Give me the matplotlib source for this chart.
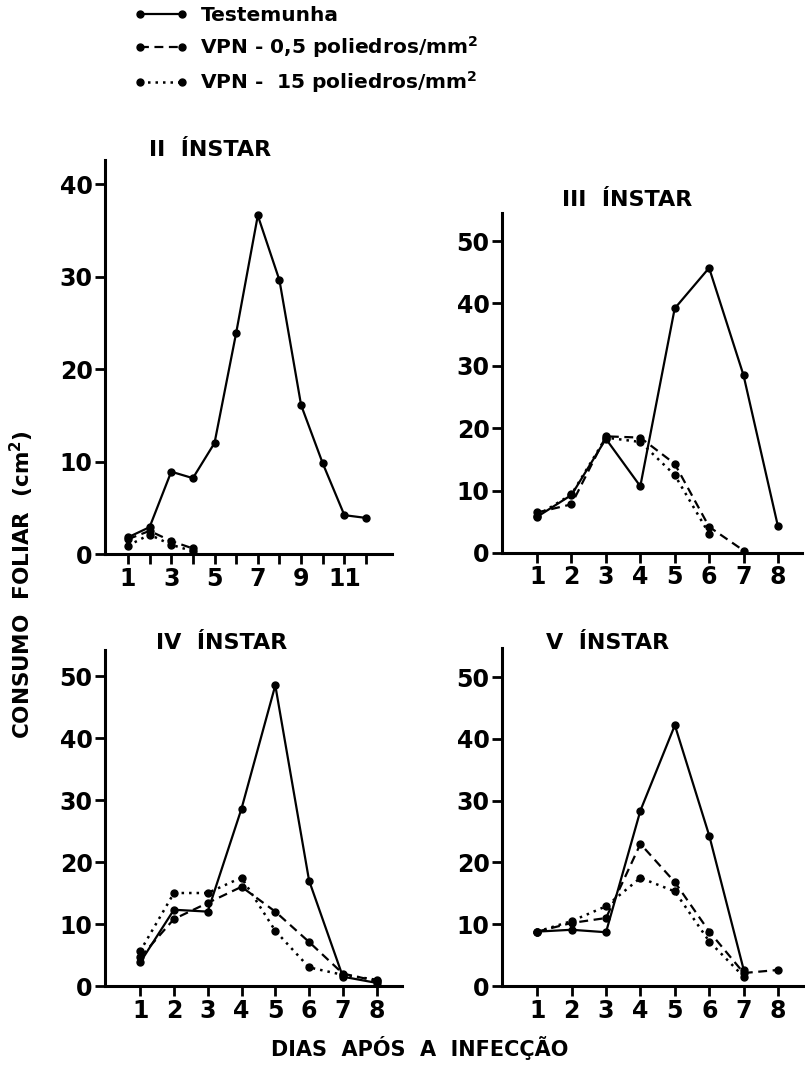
import numpy as np
import matplotlib
matplotlib.use("Agg")
import matplotlib.pyplot as plt
from matplotlib.lines import Line2D

plt.rcParams['font.family'] = ['DejaVu Sans']
plt.rcParams['font.weight'] = 'bold'

# dados (cm2 por dia apos a infeccao)
dias_ii = [1, 2, 3, 4, 5, 6, 7, 8, 9, 10, 11, 12]
test_ii = [1.8, 2.9, 8.9, 8.2, 12.0, 23.9, 36.6, 29.6, 16.1, 9.8, 4.2, 3.9]
dias_ii_vpn = [1, 2, 3, 4]
vpn05_ii = [1.6, 2.5, 1.4, 0.6]
vpn15_ii = [0.9, 2.1, 1.0, 0.3]

dias_iii = [1, 2, 3, 4, 5, 6, 7, 8]
test_iii = [5.8, 9.3, 18.3, 10.7, 39.2, 45.7, 28.5, 4.3]
dias_iii_05 = [1, 2, 3, 4, 5, 6, 7]
vpn05_iii = [6.5, 7.8, 18.7, 18.5, 14.3, 4.2, 0.4]
dias_iii_15 = [1, 2, 3, 4, 5, 6]
vpn15_iii = [6.0, 9.4, 18.5, 17.8, 12.5, 3.1]

dias_iv = [1, 2, 3, 4, 5, 6, 7, 8]
test_iv = [3.8, 12.3, 12.0, 28.6, 48.5, 17.0, 1.5, 0.5]
vpn05_iv = [4.6, 10.8, 13.4, 16.0, 12.0, 7.1, 2.0, 0.8]
vpn15_iv = [5.6, 15.0, 15.0, 17.5, 8.9, 3.0, 1.8, 1.0]

dias_v = [1, 2, 3, 4, 5, 6, 7]
test_v = [8.8, 9.1, 8.7, 28.4, 42.2, 24.3, 2.6]
dias_v_05 = [1, 2, 3, 4, 5, 6, 7, 8]
vpn05_v = [8.8, 10.2, 11.0, 23.0, 16.8, 8.8, 2.1, 2.6]
vpn15_v = [8.8, 10.5, 12.9, 17.5, 15.3, 7.2, 1.5]

W, H = 805, 1078
fig = plt.figure(figsize=(W / 100, H / 100), dpi=100)

def px_axes(left, right, top, bottom):
    return fig.add_axes([left / W, 1 - bottom / H, (right - left) / W, (bottom - top) / H])

s_solid = dict(color='black', lw=1.6, ls='-', marker='o', ms=5)
s_dash = dict(color='black', lw=1.6, ls=(0, (4, 2.5)), marker='o', ms=5)
s_dot = dict(color='black', lw=1.8, ls=(0, (1, 2)), marker='o', ms=5)

def estilo(ax):
    for s in ['top', 'right']:
        ax.spines[s].set_visible(False)
    for s in ['left', 'bottom']:
        ax.spines[s].set_linewidth(2.2)
    ax.tick_params(direction='out', length=7, width=2, labelsize=17, pad=2)
    for lab in ax.get_xticklabels() + ax.get_yticklabels():
        lab.set_fontweight('bold')

# II instar
ax1 = px_axes(105, 392, 160, 554)
ax1.plot(dias_ii, test_ii, **s_solid)
ax1.plot(dias_ii_vpn, vpn05_ii, **s_dash)
ax1.plot(dias_ii_vpn, vpn15_ii, **s_dot)
ax1.set_xlim(-0.06, 13.2)
ax1.set_ylim(0, 42.6)
ax1.set_xticks(range(1, 13))
ax1.set_xticklabels(['1', '', '3', '', '5', '', '7', '', '9', '', '11', ''])
ax1.set_yticks([0, 10, 20, 30, 40])
estilo(ax1)

# III instar
ax2 = px_axes(502, 802, 213, 553)
ax2.plot(dias_iii, test_iii, **s_solid)
ax2.plot(dias_iii_05, vpn05_iii, **s_dash)
ax2.plot(dias_iii_15, vpn15_iii, **s_dot)
ax2.set_xlim(-0.02, 8.7)
ax2.set_ylim(0, 54.5)
ax2.set_xticks(range(1, 9))
ax2.set_yticks([0, 10, 20, 30, 40, 50])
estilo(ax2)

# IV instar
ax3 = px_axes(105, 402, 650, 986)
ax3.plot(dias_iv, test_iv, **s_solid)
ax3.plot(dias_iv, vpn05_iv, **s_dash)
ax3.plot(dias_iv, vpn15_iv, **s_dot)
ax3.set_xlim(-0.04, 8.75)
ax3.set_ylim(0, 54.2)
ax3.set_xticks(range(1, 9))
ax3.set_yticks([0, 10, 20, 30, 40, 50])
estilo(ax3)

# V instar
ax4 = px_axes(502, 804, 648, 986)
ax4.plot(dias_v, test_v, **s_solid)
ax4.plot(dias_v_05, vpn05_v, **s_dash)
ax4.plot(dias_v, vpn15_v, **s_dot)
ax4.set_xlim(-0.02, 8.75)
ax4.set_ylim(0, 54.7)
ax4.set_xticks(range(1, 9))
ax4.set_yticks([0, 10, 20, 30, 40, 50])
estilo(ax4)

tfs = 16
fig.text(210 / W, 1 - 150 / H, 'II  ÍNSTAR', ha='center', va='center', fontsize=tfs, fontweight='bold')
fig.text(627 / W, 1 - 200 / H, 'III  ÍNSTAR', ha='center', va='center', fontsize=tfs, fontweight='bold')
fig.text(222 / W, 1 - 643 / H, 'IV  ÍNSTAR', ha='center', va='center', fontsize=tfs, fontweight='bold')
fig.text(608 / W, 1 - 643 / H, 'V  ÍNSTAR', ha='center', va='center', fontsize=tfs, fontweight='bold')

fig.text(22 / W, 1 - 585 / H, 'CONSUMO  FOLIAR  (cm$^2$)', rotation=90, ha='center', va='center',
         fontsize=15.5, fontweight='bold')
fig.text(420 / W, 1 - 1048 / H, 'DIAS  APÓS  A  INFECÇÃO', ha='center', va='center',
         fontsize=15, fontweight='bold')

handles = [Line2D([], [], **s_solid), Line2D([], [], **s_dash), Line2D([], [], **s_dot)]
labels = ['Testemunha', 'VPN - 0,5 poliedros/mm$^2$', 'VPN -  15 poliedros/mm$^2$']
fig.legend(handles, labels, loc='upper left', bbox_to_anchor=(134 / W, 1 - 6 / H),
           frameon=False, numpoints=2, handlelength=2.7, handletextpad=0.6,
           labelspacing=0.45, borderpad=0, borderaxespad=0,
           prop={'size': 14.5, 'weight': 'bold'})

fig.savefig('out.png', dpi=100, facecolor='white')
